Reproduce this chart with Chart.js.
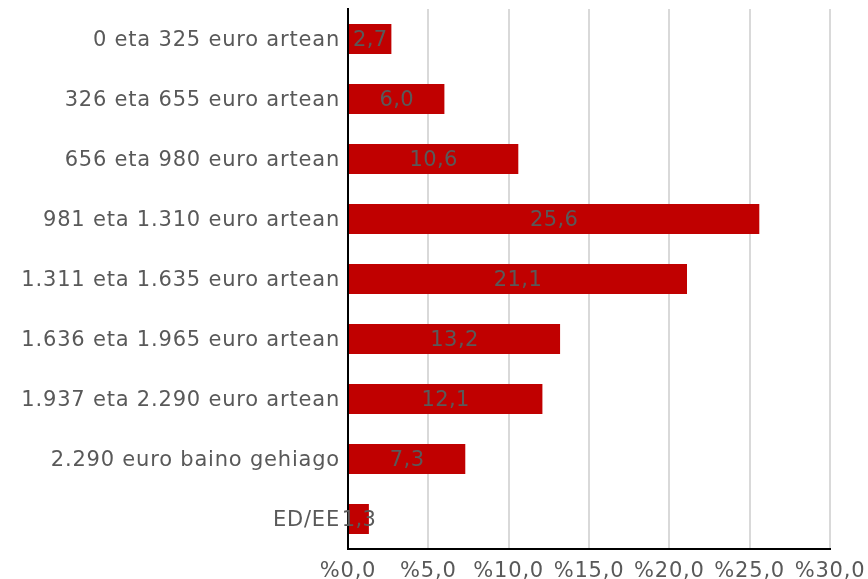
<!DOCTYPE html>
<html>
<head>
<meta charset="utf-8">
<script src="https://cdn.jsdelivr.net/npm/chart.js@4/dist/chart.umd.min.js"></script>
<style>
  html, body { margin: 0; padding: 0; background: #fff; }
  #wrap { width: 868px; height: 579px; }
</style>
</head>
<body>
<div id="wrap"><canvas id="myCanvas" width="868" height="579"></canvas></div>
<script>
var categories = [
    "0 eta 325 euro artean",
    "326 eta 655 euro artean",
    "656 eta 980 euro artean",
    "981 eta 1.310 euro artean",
    "1.311 eta 1.635 euro artean",
    "1.636 eta 1.965 euro artean",
    "1.937 eta 2.290 euro artean",
    "2.290 euro baino gehiago",
    "ED/EE"
];
var values = [2.7, 6.0, 10.6, 25.6, 21.1, 13.2, 12.1, 7.3, 1.3];
var xTicks = [0, 5, 10, 15, 20, 25, 30];

function fmt(v) {
    return v.toFixed(1).replace('.', ',');
}

// the reference text is a bit spread out
var spacing = {
    id: 'spacing',
    beforeUpdate(chart) { chart.ctx.letterSpacing = '0.8px'; },
    beforeLayout(chart) { chart.ctx.letterSpacing = '0.8px'; },
    beforeDraw(chart) { chart.ctx.letterSpacing = '0.8px'; }
};

// labels in the middle of each bar
var barLabels = {
    id: 'barLabels',
    afterDatasetsDraw(chart) {
        var c = chart.ctx;
        var meta = chart.getDatasetMeta(0);
        c.save();
        c.letterSpacing = '0.4px';
        c.font = '21px "DejaVu Sans"';
        c.fillStyle = '#595959';
        c.textAlign = 'center';
        c.textBaseline = 'middle';
        meta.data.forEach(function (bar, i) {
            var mid = (bar.x + bar.base) / 2;
            c.fillText(fmt(values[i]), mid, bar.y + 2);
        });
        c.restore();
    }
};

Chart.defaults.font.family = '"DejaVu Sans"';
Chart.defaults.font.size = 21;
Chart.defaults.color = '#595959';

var ctx = document.getElementById('myCanvas').getContext('2d');
var myChart = new Chart(ctx, {
    type: 'bar',
    data: {
        labels: categories,
        datasets: [{
            data: values,
            backgroundColor: '#c00000',
            categoryPercentage: 1.0,
            barPercentage: 0.5
        }]
    },
    options: {
        indexAxis: 'y',
        responsive: false,
        animation: false,
        layout: {
            padding: { top: 9, right: 38, bottom: 0, left: 0 }
        },
        plugins: {
            legend: { display: false },
            tooltip: { enabled: false }
        },
        scales: {
            x: {
                min: 0,
                max: 30,
                afterBuildTicks(scale) {
                    scale.ticks = xTicks.map(function (v) { return { value: v }; });
                },
                afterFit(scale) {
                    scale.height = 30;
                    scale.paddingLeft = 0;
                    scale.paddingRight = 0;
                },
                grid: {
                    color: '#d9d9d9',
                    lineWidth: 2,
                    drawTicks: false
                },
                border: { display: true, color: '#000', width: 2 },
                ticks: {
                    padding: 10,
                    maxRotation: 0,
                    callback: function (v) { return '%' + fmt(v); }
                }
            },
            y: {
                afterFit(scale) {
                    scale.width = 348;
                    scale.paddingTop = 0;
                    scale.paddingBottom = 0;
                },
                grid: { display: false, drawTicks: false },
                border: { display: true, color: '#000', width: 2 },
                ticks: { padding: 8, labelOffset: 2 }
            }
        }
    },
    plugins: [spacing, barLabels]
});
</script>
</body>
</html>
